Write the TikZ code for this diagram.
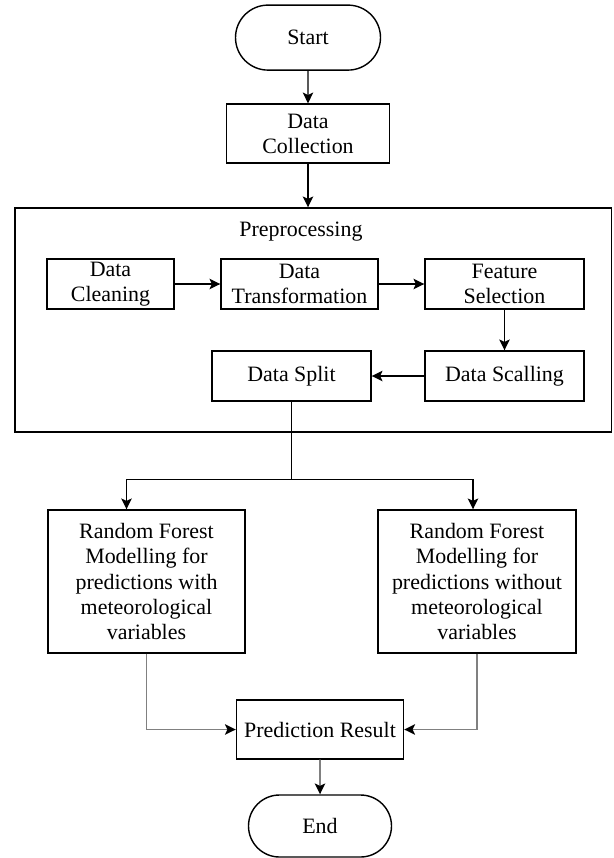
\documentclass[tikz,border=0pt]{standalone}
\usepackage{fontspec}
\setmainfont{Liberation Serif}
\usetikzlibrary{positioning, calc, arrows.meta, shapes.misc}
\newcommand{\flowfont}{\fontsize{15.6}{17.8}\selectfont}
\tikzset{
  % Flowchart
  termnode/.style  = { draw, line width=1pt, rounded rectangle, inner sep=0,
                       font=\flowfont },
  stepbox/.style   = { draw, line width=1pt, align=center, inner sep=0,
                       font=\flowfont },
  groupbox/.style  = { draw, line width=1pt, inner sep=0 },
  grouplabel/.style= { font=\flowfont, inner sep=1pt },
  flowline/.style  = { line width=1pt },
  flowarrow/.style = { line width=1pt, -{Stealth[length=2.7mm, width=2.6mm, inset=0.6mm]} },
  mergearrow/.style= { line width=1.2pt, black!50,
                       -{Stealth[length=2.7mm, width=2.6mm, inset=0.6mm, black]} }
}

\begin{document}
\begin{tikzpicture}
  \useasboundingbox (0,0) rectangle (15.325,-21.45);

  % --- Start and collection ------------------------------------------
  \node[termnode, minimum width=3.625cm, minimum height=1.625cm] (start) at (7.7,-0.94) {Start};
  \node[stepbox, minimum width=4.075cm, minimum height=1.475cm] (collect) at (7.7,-3.34) {Data\\Collection};

  % --- Preprocessing group -------------------------------------------
  \node[groupbox, minimum width=14.9cm, minimum height=5.6cm] (prep) at (7.83,-8.0) {};
  \node[grouplabel] (preplabel) at (7.525,-5.8) {Preprocessing};

  \node[stepbox, minimum width=3.175cm, minimum height=1.25cm] (clean)  at (2.7625,-7.1)  {Data\\Cleaning};
  \node[stepbox, minimum width=3.925cm, minimum height=1.25cm] (transf) at (7.4875,-7.1)  {Data\\Transformation};
  \node[stepbox, minimum width=3.975cm, minimum height=1.25cm] (feat)   at (12.6125,-7.1) {Feature\\Selection};
  \node[stepbox, minimum width=3.975cm, minimum height=1.25cm] (scal)   at (12.6125,-9.4) {Data Scalling};
  \node[stepbox, minimum width=3.975cm, minimum height=1.25cm] (split)  at (7.2875,-9.4)  {Data Split};

  % --- Models and result ---------------------------------------------
  \node[stepbox, minimum width=4.925cm, minimum height=3.575cm] (rfwith) at (3.6625,-14.5375)
    {Random Forest\\Modelling for\\predictions with\\meteorological\\variables};
  \node[stepbox, minimum width=4.95cm, minimum height=3.575cm] (rfwithout) at (11.925,-14.5375)
    {Random Forest\\Modelling for\\predictions without\\meteorological\\variables};
  \node[stepbox, minimum width=4.175cm, minimum height=1.475cm] (result) at (8.0,-18.2375) {Prediction Result};
  \node[termnode, minimum width=3.575cm, minimum height=1.55cm] (finish) at (8.0,-20.65) {End};

  % --- Connectors ----------------------------------------------------
  \draw[flowarrow] (start) -- (collect);
  \draw[flowarrow] (collect) -- (collect |- prep.north);

  \draw[flowarrow] (clean) -- (transf);
  \draw[flowarrow] (transf) -- (feat);
  \draw[flowarrow] (feat) -- (scal);
  \draw[flowarrow] (scal) -- (split);

  \coordinate (fork) at ([yshift=-1.95cm]split.south);
  \draw[flowline] (split.south) -- (fork);
  \draw[flowarrow] (fork) -| ([xshift=-0.5cm]rfwith.north);
  \draw[flowarrow] (fork) -| ([xshift=-0.1cm]rfwithout.north);

  \draw[mergearrow] (rfwith.south) |- (result.west);
  \draw[mergearrow] (rfwithout.south) |- (result.east);
  \draw[mergearrow] (result) -- (finish);

\end{tikzpicture}
\end{document}
